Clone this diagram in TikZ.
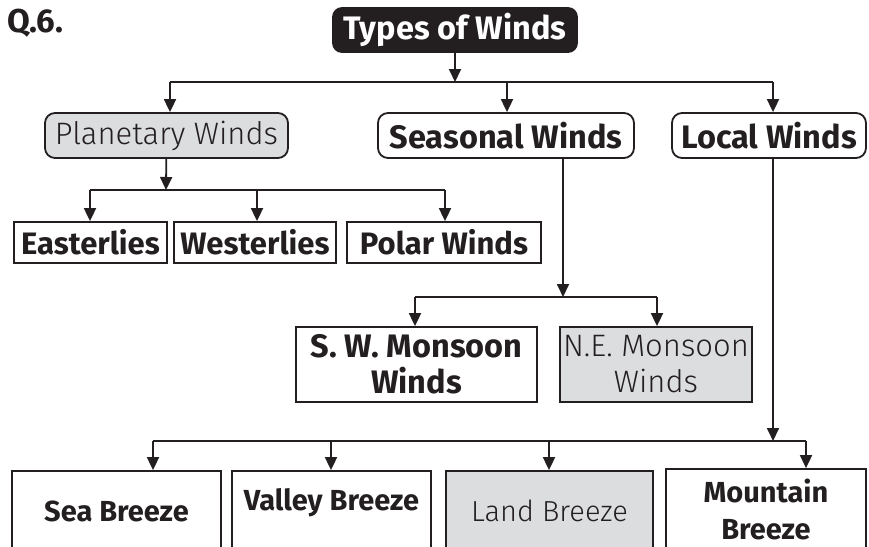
\documentclass[tikz,border=0pt]{standalone}
\usepackage{fontspec}
\setmainfont{Fira Sans}
\newfontfamily\lightfont{Fira Sans Light}
\usetikzlibrary{arrows.meta,positioning}
\definecolor{ink}{HTML}{231F20}
\definecolor{shade}{HTML}{DCDDDF}

\begin{document}
\begin{tikzpicture}
[x=1pt,y=-1pt,
 box/.style={draw=ink,line width=1.8pt,inner sep=0pt,text=ink,align=center},
 bold/.style={font=\fontsize{31}{36}\selectfont\bfseries},
 big/.style={font=\fontsize{32.5}{36}\selectfont\bfseries},
 thin/.style={font=\fontsize{31}{36}\selectfont\lightfont},
 small/.style={font=\fontsize{29}{37}\selectfont\bfseries},
 arr/.style={draw=ink,line width=1.8pt,-{Triangle[length=13pt,width=12pt]}},
 bar/.style={draw=ink,line width=1.8pt}]
\clip (0,0) rectangle (869,546);
% heading
\node[font=\fontsize{33}{36}\selectfont\bfseries,text=ink,inner sep=0pt,anchor=base west] (qno) at (7,32) {Q.6.};
\node[box,big,fill=ink,text=white,rounded corners=9pt,minimum width=244pt,minimum height=44pt] (title) at (455,30) {Types of Winds};
% first level
\node[box,thin,fill=shade,rounded corners=10pt,minimum width=243pt,minimum height=45pt] (planet) at (166.5,135.5) {Planetary Winds};
\node[box,big,rounded corners=10pt,minimum width=256pt,minimum height=45pt] (season) at (506,135.5) {Seasonal Winds};
\node[box,big,rounded corners=10pt,minimum width=194pt,minimum height=45pt] (local) at (769,135.5) {Local Winds};
% planetary winds
\node[box,bold,minimum width=153pt,minimum height=41pt] (east) at (90.5,242.5) {Easterlies};
\node[box,bold,minimum width=162pt,minimum height=41pt] (west) at (255,242.5) {Westerlies};
\node[box,bold,minimum width=194pt,minimum height=41pt] (polar) at (444,242.5) {Polar Winds};
% seasonal winds
\node[box,big,minimum width=241pt,minimum height=75pt] (swm) at (416.5,364.5) {S.~W. Monsoon\\Winds};
\node[box,thin,fill=shade,minimum width=192pt,minimum height=75pt] (nem) at (656,364.5) {N.E. Monsoon\\Winds};
% local winds
\node[box,small,minimum width=209pt,minimum height=80pt] (sea) at (116.5,511) {Sea Breeze};
\node[box,small,minimum width=199pt,minimum height=80pt] (valley) at (331.5,511) {Valley Breeze\\[-14pt]~};
\node[box,thin,fill=shade,font=\fontsize{29}{37}\selectfont\lightfont,minimum width=207pt,minimum height=80pt] (land) at (549.5,511) {Land Breeze};
\node[box,small,minimum width=200pt,minimum height=80pt] (mount) at (766,509) {Mountain\\Breeze};
% junctions
\coordinate (jtop) at (455,82);
\coordinate (pl) at (170,82);
\coordinate (se) at (507,82);
\coordinate (lo) at (773,82);
\coordinate (jplan) at (166,190);
\coordinate (ea) at (90,190);
\coordinate (we) at (257,190);
\coordinate (po) at (445,190);
\coordinate (jsea) at (563,297);
\coordinate (sw) at (415,297);
\coordinate (ne) at (657,297);
\coordinate (jloc) at (773,441);
\coordinate (sb) at (153,441);
\coordinate (vb) at (331,441);
\coordinate (lb) at (549,441);
\coordinate (mb) at (806,441);
% connectors
\draw[arr] (title) -- (jtop);
\draw[bar] (pl) -- (lo);
\draw[arr] (pl) -- (pl |- planet.north);
\draw[arr] (se) -- (se |- season.north);
\draw[arr] (lo) -- (lo |- local.north);
\draw[arr] (planet) -- (jplan);
\draw[bar] (ea) -- (po);
\draw[arr] (ea) -- (ea |- east.north);
\draw[arr] (we) -- (we |- west.north);
\draw[arr] (po) -- (po |- polar.north);
\draw[arr] (jsea |- season.south) -- (jsea);
\draw[bar] (sw) -- (ne);
\draw[arr] (sw) -- (sw |- swm.north);
\draw[arr] (ne) -- (ne |- nem.north);
\draw[arr] (jloc |- local.south) -- (jloc);
\draw[bar] (sb) -- (mb);
\draw[arr] (sb) -- (sb |- sea.north);
\draw[arr] (vb) -- (vb |- valley.north);
\draw[arr] (lb) -- (lb |- land.north);
\draw[arr] (mb) -- (mb |- mount.north);
\end{tikzpicture}
\end{document}
